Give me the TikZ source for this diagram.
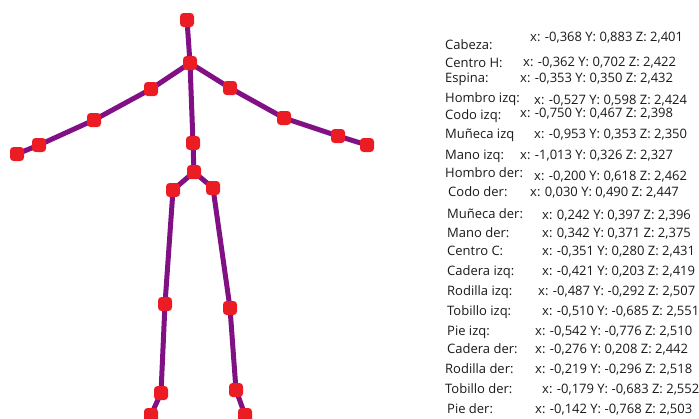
\documentclass[tikz,border=0pt]{standalone}
\usepackage{fontspec}
\setmainfont{Open Sans}
\usetikzlibrary{backgrounds}
\definecolor{bone}{RGB}{128,16,132}
\definecolor{joint}{RGB}{236,28,36}
\definecolor{txt}{RGB}{25,25,25}
\begin{document}
\begin{tikzpicture}[x=1pt,y=-1pt,
  jointbox/.style={shape=rectangle, fill=joint, minimum size=14pt, inner sep=0pt, rounded corners=3.5pt},
  bonestyle/.style={draw=bone, line width=5pt},
  lbl/.style={anchor=base west, inner sep=0pt, text=txt, font=\fontsize{13}{15}\selectfont}]
\useasboundingbox (0,0) rectangle (699,418);

% joints of the skeleton
\node[jointbox] (head)   at (187,20)  {};
\node[jointbox] (neck)   at (190,63)  {};
\node[jointbox] (shl)    at (151,89)  {};
\node[jointbox] (elbl)   at (94,120)  {};
\node[jointbox] (wrl)    at (39,145)  {};
\node[jointbox] (handl)  at (17,154)  {};
\node[jointbox] (shr)    at (230,88)  {};
\node[jointbox] (elbr)   at (284,118) {};
\node[jointbox] (wrr)    at (338,136) {};
\node[jointbox] (handr)  at (367,145) {};
\node[jointbox] (spine)  at (193,143) {};
\node[jointbox] (hipc)   at (194,172) {};
\node[jointbox] (hipl)   at (173,190) {};
\node[jointbox] (hipr)   at (213,188) {};
\node[jointbox] (kneel)  at (165,304) {};
\node[jointbox] (kneer)  at (230,308) {};
\node[jointbox] (ankl)   at (161,393) {};
\node[jointbox] (ankr)   at (236,390) {};
\node[jointbox] (footl)  at (151,415) {};
\node[jointbox] (footr)  at (245,415) {};

% bones, drawn beneath the joints
\begin{scope}[on background layer]
  \draw[bonestyle] (head.center) -- (neck.center);
  \draw[bonestyle] (neck.center) -- (shl.center) -- (elbl.center) -- (wrl.center) -- (handl.center);
  \draw[bonestyle] (neck.center) -- (shr.center) -- (elbr.center) -- (wrr.center) -- (handr.center);
  \draw[bonestyle] (neck.center) -- (spine.center) -- (hipc.center);
  \draw[bonestyle] (hipc.center) -- (hipl.center) -- (kneel.center) -- (ankl.center) -- (footl.center);
  \draw[bonestyle] (hipc.center) -- (hipr.center) -- (kneer.center) -- (ankr.center) -- (footr.center);
\end{scope}

% joint names and coordinates
\node[lbl] (n1)  at (445,49)  {Cabeza:};       \node[lbl] (v1)  at (530,41)  {x: -0,368 Y: 0,883 Z: 2,401};
\node[lbl] (n2)  at (445,67)  {Centro H:};     \node[lbl] (v2)  at (523,66)  {x: -0,362 Y: 0,702 Z: 2,422};
\node[lbl] (n3)  at (445,82)  {Espina:};       \node[lbl] (v3)  at (520,82)  {x: -0,353 Y: 0,350 Z: 2,432};
\node[lbl] (n4)  at (445,102) {Hombro izq:};   \node[lbl] (v4)  at (534,104) {x: -0,527 Y: 0,598 Z: 2,424};
\node[lbl] (n5)  at (445,119) {Codo izq:};     \node[lbl] (v5)  at (520,117) {x: -0,750 Y: 0,467 Z: 2,398};
\node[lbl] (n6)  at (445,138) {Muñeca izq};    \node[lbl] (v6)  at (534,138) {x: -0,953 Y: 0,353 Z: 2,350};
\node[lbl] (n7)  at (445,159) {Mano izq:};     \node[lbl] (v7)  at (520,159) {x: -1,013 Y: 0,326 Z: 2,327};
\node[lbl] (n8)  at (445,177) {Hombro der:};   \node[lbl] (v8)  at (534,180) {x: -0,200 Y: 0,618 Z: 2,462};
\node[lbl] (n9)  at (448,196) {Codo der:};     \node[lbl] (v9)  at (530,196) {x: 0,030 Y: 0,490 Z: 2,447};
\node[lbl] (n10) at (447,218) {Muñeca der:};   \node[lbl] (v10) at (542,219) {x: 0,242 Y: 0,397 Z: 2,396};
\node[lbl] (n11) at (447,237) {Mano der:};     \node[lbl] (v11) at (542,237) {x: 0,342 Y: 0,371 Z: 2,375};
\node[lbl] (n12) at (447,255) {Centro C:};     \node[lbl] (v12) at (542,255) {x: -0,351 Y: 0,280 Z: 2,431};
\node[lbl] (n13) at (447,275) {Cadera izq:};   \node[lbl] (v13) at (542,275) {x: -0,421 Y: 0,203 Z: 2,419};
\node[lbl] (n14) at (447,295) {Rodilla izq:};  \node[lbl] (v14) at (538,295) {x: -0,487 Y: -0,292 Z: 2,507};
\node[lbl] (n15) at (447,315) {Tobillo izq:};  \node[lbl] (v15) at (542,315) {x: -0,510 Y: -0,685 Z: 2,551};
\node[lbl] (n16) at (447,335) {Pie izq:};      \node[lbl] (v16) at (535,335) {x: -0,542 Y: -0,776 Z: 2,510};
\node[lbl] (n17) at (447,353) {Cadera der:};   \node[lbl] (v17) at (535,353) {x: -0,276 Y: 0,208 Z: 2,442};
\node[lbl] (n18) at (445,373) {Rodilla der:};  \node[lbl] (v18) at (535,373) {x: -0,219 Y: -0,296 Z: 2,518};
\node[lbl] (n19) at (445,393) {Tobillo der:};  \node[lbl] (v19) at (542,393) {x: -0,179 Y: -0,683 Z: 2,552};
\node[lbl] (n20) at (447,413) {Pie der:};      \node[lbl] (v20) at (535,413) {x: -0,142 Y: -0,768 Z: 2,503};
\end{tikzpicture}
\end{document}
